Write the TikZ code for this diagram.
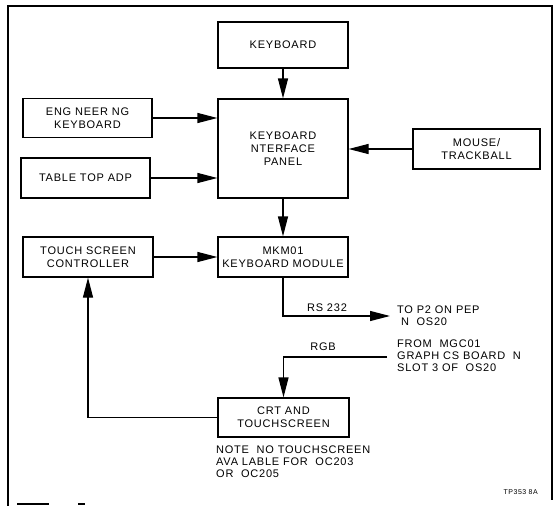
\documentclass[tikz,border=0pt]{standalone}
\usepackage{fontspec}
\setmainfont{Liberation Sans}[LetterSpace=7]
\usetikzlibrary{arrows.meta}
\tikzset{
  blk/.style={draw, line width=1.2pt, inner sep=0pt, align=center,
    font=\fontsize{11}{13}\selectfont},
  conn/.style={line width=1.2pt, -{Triangle[length=20pt,width=10pt]}},
  lbl/.style={inner sep=0pt, font=\fontsize{11}{12}\selectfont},
  frm/.style={line width=1.4pt}
}
\begin{document}
\begin{tikzpicture}[x=1pt,y=-1pt]
\useasboundingbox (0,0) rectangle (558,506);
% frame
\draw[frm] (8,5) -- (8,506);
\draw[frm] (7,6) -- (552,6) -- (552,500);
\draw[frm] (17,504) -- (49,504);
\draw[frm] (78,504) -- (85,504);
% blocks
\node[blk, minimum width=130pt, minimum height=46pt] (kb) at (283,45) {KEYBOARD};
\node[blk, minimum width=130pt, minimum height=99pt] (kip) at (283,148.5) {KEYBOARD\\NTERFACE\\PANEL};
\node[blk, minimum width=129pt, minimum height=39pt] (eng) at (87.5,118) {ENG NEER NG\\KEYBOARD};
\node[blk, minimum width=129pt, minimum height=40pt] (tta) at (85.5,178) {TABLE TOP ADP};
\node[blk, minimum width=127pt, minimum height=40pt] (mouse) at (476.5,149) {MOUSE/\\TRACKBALL};
\node[blk, minimum width=130pt, minimum height=40pt] (tsc) at (88,257) {TOUCH SCREEN\\CONTROLLER};
\node[blk, minimum width=130pt, minimum height=40pt] (mkm) at (283,257) {MKM01\\KEYBOARD MODULE};
\node[blk, minimum width=131pt, minimum height=39pt] (crt) at (283.5,417.5) {CRT AND\\TOUCHSCREEN};
% free ends
\coordinate (rsend) at (390,316);
\coordinate (rgbstart) at (387,357);
% connectors
\draw[conn] (kb) -- (kip);
\draw[conn] (eng.east) -- (eng.east -| kip.west);
\draw[conn] (tta.east) -- (tta.east -| kip.west);
\draw[conn] (mouse.west) -- (mouse.west -| kip.east);
\draw[conn] (kip) -- (mkm);
\draw[conn] (tsc.east) -- (tsc.east -| mkm.west);
\draw[conn] (mkm.south) |- (rsend);
\draw[conn] (rgbstart) -| (crt.north);
\draw[conn] (crt.west) -| (tsc.south);
% labels
\node[lbl] (rs) at (327,308) {RS 232};
\node[lbl, anchor=north west, align=left] (top2) at (397,306) {TO P2 ON PEP\\\ N\ \ OS20};
\node[lbl] (rgb) at (323,347) {RGB};
\node[lbl, anchor=north west, align=left] (from) at (397,340) {FROM\ \ MGC01\\GRAPH CS BOARD\ \ N\\SLOT 3 OF\ \ OS20};
\node[lbl, anchor=north west, align=left] (note) at (216,446) {NOTE\ \ NO TOUCHSCREEN\\AVA LABLE FOR\ \ OC203\\OR\ \ OC205};
\node[lbl, font=\fontsize{7}{8}\selectfont, anchor=east] (tp) at (538,492) {TP353 8A};
\end{tikzpicture}
\end{document}
